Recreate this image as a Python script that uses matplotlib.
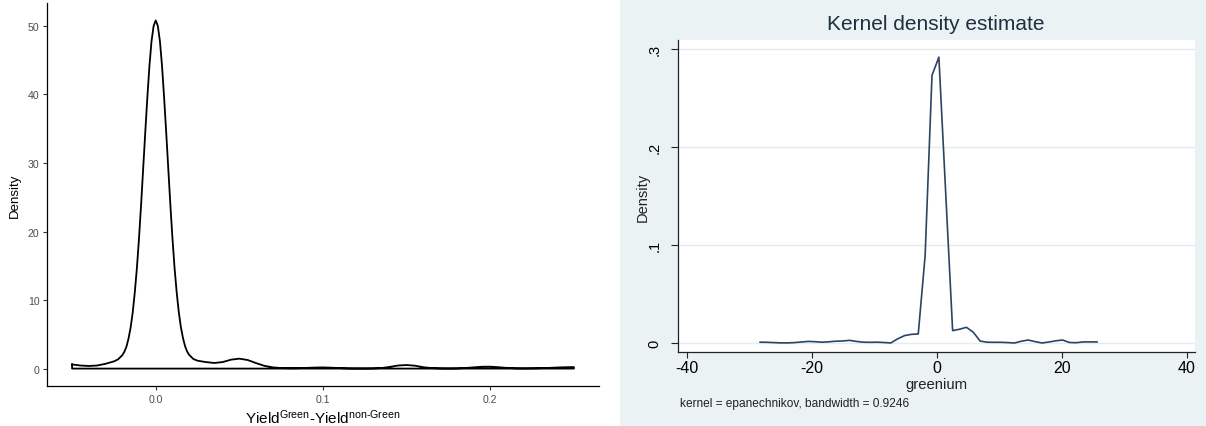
import matplotlib
matplotlib.use("Agg")
import matplotlib.pyplot as plt
from matplotlib.patches import Rectangle

plt.rcParams["font.family"] = ["Liberation Sans", "DejaVu Sans"]
plt.rcParams["mathtext.fontset"] = "custom"
plt.rcParams["mathtext.rm"] = "Liberation Sans"
plt.rcParams["mathtext.it"] = "Liberation Sans:italic"
plt.rcParams["axes.unicode_minus"] = False

# ---- left panel: density of the yield difference ----
yield_diff = [
    -0.050, -0.045, -0.040, -0.035, -0.030, -0.025, -0.0225,
    -0.020, -0.01875, -0.0175, -0.01625, -0.015, -0.01375, -0.0125, -0.01125,
    -0.010, -0.00875, -0.0075, -0.00625, -0.005, -0.00375, -0.0025, -0.00125,
    0.000, 0.00125, 0.0025, 0.00375, 0.005, 0.00625, 0.0075, 0.00875,
    0.010, 0.01125, 0.0125, 0.01375, 0.015, 0.01625, 0.0175, 0.01875,
    0.020, 0.0225, 0.025, 0.030, 0.035, 0.040, 0.045, 0.050, 0.055,
    0.060, 0.065, 0.070, 0.075, 0.080, 0.085, 0.090, 0.095, 0.100,
    0.105, 0.110, 0.115, 0.120, 0.125, 0.130, 0.135, 0.140, 0.145,
    0.150, 0.155, 0.160, 0.165, 0.170, 0.175, 0.180, 0.185, 0.190,
    0.195, 0.200, 0.205, 0.210, 0.215, 0.220, 0.225, 0.230, 0.235,
    0.240, 0.245, 0.250,
]
yield_density = [
    0.60, 0.45, 0.38, 0.45, 0.70, 1.05, 1.35,
    1.95, 2.45, 3.2, 4.4, 6.0, 8.2, 11.15, 14.7,
    19.0, 23.9, 29.2, 34.5, 39.6, 44.2, 47.8, 50.0,
    50.8, 50.0, 47.8, 44.2, 39.6, 34.5, 29.2, 23.9,
    19.0, 14.7, 11.2, 8.3, 6.1, 4.5, 3.3, 2.5,
    2.0, 1.4, 1.15, 0.95, 0.82, 0.95, 1.30, 1.45, 1.25,
    0.80, 0.40, 0.18, 0.08, 0.05, 0.06, 0.10, 0.15, 0.17,
    0.13, 0.07, 0.03, 0.02, 0.02, 0.03, 0.08, 0.25, 0.45,
    0.52, 0.42, 0.20, 0.07, 0.03, 0.02, 0.03, 0.08, 0.18,
    0.27, 0.28, 0.20, 0.10, 0.04, 0.03, 0.04, 0.06, 0.10,
    0.16, 0.20, 0.22,
]
left_xticks = [0.0, 0.1, 0.2]
left_xticklabels = ["0.0", "0.1", "0.2"]
left_yticks = [0, 10, 20, 30, 40, 50]

# ---- right panel: Stata kernel density of greenium ----
greenium = [
    -28.3, -27.2, -26.1, -25.0, -23.9, -22.8, -21.7, -20.6, -19.5, -18.4,
    -17.3, -16.2, -15.1, -14.0, -12.9, -11.8, -10.7, -9.6, -8.5, -7.4,
    -6.3, -5.2, -4.1, -3.0, -1.9, -0.8, 0.3, 1.4, 2.5, 3.6,
    4.7, 5.8, 6.9, 8.0, 9.1, 10.2, 11.3, 12.4, 13.5, 14.6,
    15.7, 16.8, 17.9, 19.0, 20.1, 21.2, 22.3, 23.4, 24.5, 25.6,
]
greenium_density = [
    0.0008, 0.0007, 0.0004, 0.0001, 0.0001, 0.0004, 0.0010, 0.0016, 0.0013, 0.0008,
    0.0012, 0.0018, 0.0020, 0.0027, 0.0016, 0.0008, 0.0007, 0.0008, 0.0005, 0.0000,
    0.0042, 0.0075, 0.0088, 0.0092, 0.0890, 0.2730, 0.2915, 0.1520, 0.0126, 0.0140,
    0.0160, 0.0110, 0.0020, 0.0008, 0.0007, 0.0007, 0.0004, 0.0000, 0.0018, 0.0030,
    0.0014, 0.0000, 0.0010, 0.0022, 0.0030, 0.0005, 0.0003, 0.0011, 0.0011, 0.0011,
]
right_xticks = [-40, -20, 0, 20, 40]
right_yticks = [0, 0.1, 0.2, 0.3]
right_yticklabels = ["0", ".1", ".2", ".3"]

W, H = 1206, 427
fig = plt.figure(figsize=(W / 100, H / 100), dpi=100)


def box(left, top, right, bottom):
    return [left / W, 1 - bottom / H, (right - left) / W, (bottom - top) / H]


STATA_BG = "#EAF2F3"
fig.patches.append(Rectangle((620 / W, 0), 1 - 620 / W, 1, transform=fig.transFigure,
                             facecolor=STATA_BG, edgecolor="none", zorder=-5))

# ggplot2-like classic panel
ax1 = fig.add_axes(box(47, 4, 599, 387))
poly_x = yield_diff + [yield_diff[-1], yield_diff[0], yield_diff[0]]
poly_y = yield_density + [0, 0, yield_density[0]]
ax1.plot(poly_x, poly_y, color="black", lw=1.3, solid_joinstyle="round")
span = max(yield_diff) - min(yield_diff)
ax1.set_xlim(min(yield_diff) - 0.05 * span, max(yield_diff) + 0.05 * span)
ymax = max(yield_density)
ax1.set_ylim(-0.05 * ymax, ymax * 1.05)
ax1.set_xticks(left_xticks)
ax1.set_xticklabels(left_xticklabels)
ax1.set_yticks(left_yticks)
for side in ("top", "right"):
    ax1.spines[side].set_visible(False)
for side in ("left", "bottom"):
    ax1.spines[side].set_color("black")
    ax1.spines[side].set_linewidth(0.9)
ax1.tick_params(axis="both", length=3, width=0.8, color="#333333",
                labelcolor="#4D4D4D", labelsize=7.6, pad=2.5)
ax1.set_ylabel("Density", fontsize=9.5, labelpad=5)
ax1.set_xlabel("Yield$^{\\mathrm{Green}}$-Yield$^{\\mathrm{non\u2010Green}}$",
               fontsize=11, labelpad=3)

# Stata s2color-like panel
ax2 = fig.add_axes(box(678, 41, 1195, 353))
ax2.set_zorder(2)
ax2.set_facecolor("white")
ax2.plot(greenium, greenium_density, color="#2B4560", lw=1.2, zorder=3)
ax2.set_xlim(-41.44, 41.28)
ax2.set_ylim(-0.0092, 0.309)
ax2.set_xticks(right_xticks)
ax2.set_yticks(right_yticks)
ax2.set_yticklabels(right_yticklabels, rotation=90, va="center")
ax2.yaxis.grid(True, color="#E3ECEE", lw=1.0)
ax2.set_axisbelow(True)
for side in ("top", "right"):
    ax2.spines[side].set_visible(False)
for side in ("left", "bottom"):
    ax2.spines[side].set_color("#222222")
    ax2.spines[side].set_linewidth(0.9)
ax2.tick_params(axis="x", length=4, width=0.8, color="#222222", labelsize=11.5, pad=1.5)
ax2.tick_params(axis="y", length=5, width=0.8, color="#222222", labelsize=10.5, pad=7)
fig.text(643 / W, 1 - 197 / H, "Density", rotation=90, ha="center", va="center",
         fontsize=10.5, color="#222222")
fig.text(936 / W, 1 - 385 / H, "greenium", ha="center", va="center",
         fontsize=10.7, color="#222222")
fig.text(936 / W, 1 - 25 / H, "Kernel density estimate", ha="center", va="center",
         fontsize=15, color="#1E2F40")
fig.text(680 / W, 1 - 404 / H, "kernel = epanechnikov, bandwidth = 0.9246",
         ha="left", va="center", fontsize=8.6, color="#222222")

fig.savefig("out.png", dpi=100)
